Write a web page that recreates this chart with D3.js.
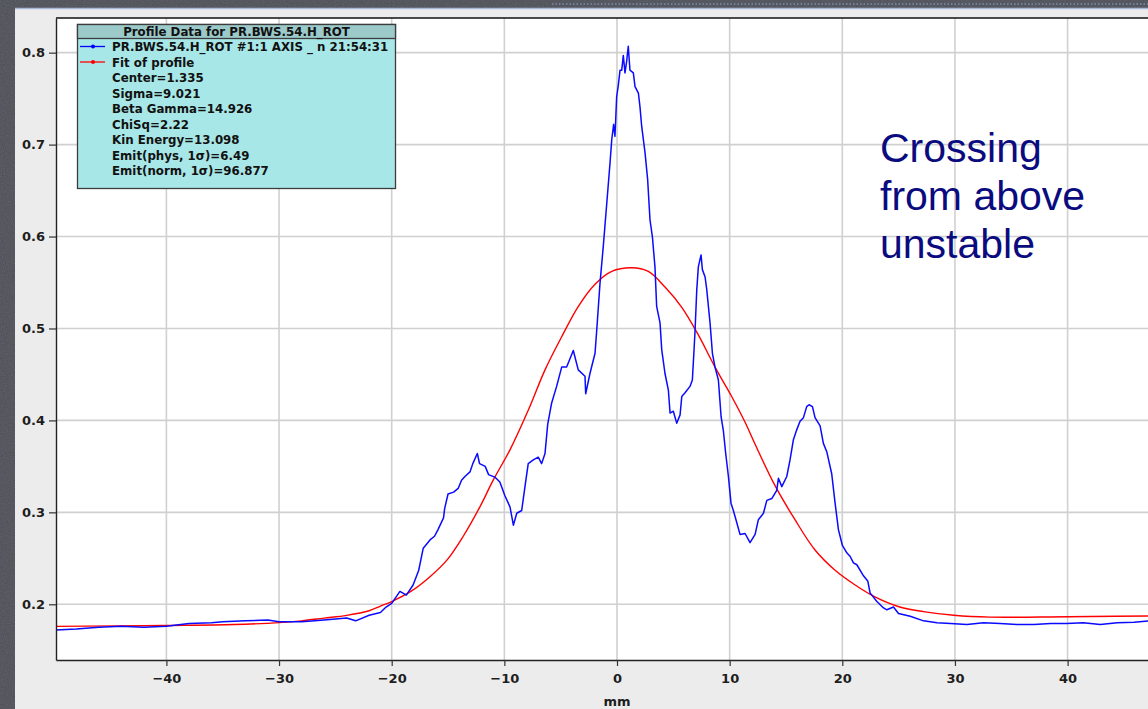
<!DOCTYPE html>
<html>
<head>
<meta charset="utf-8">
<script src="https://cdn.jsdelivr.net/npm/d3@7"></script>
<style>
  html, body { margin: 0; padding: 0; background: #474a52; }
  svg { display: block; }
</style>
</head>
<body>
<svg id="chart" width="1148" height="709"></svg>
<script>
// Measured wire-scanner profile (position in mm, signal)
const profileX = [-49.8, -48, -46, -44, -42, -40, -38, -36, -35, -33, -31, -30, -28, -26, -24, -23.2, -22, -21, -20.5, -20,
  -19.27, -18.7, -18.1, -17.6, -17.2, -16.6, -16.2, -15.9, -15.4, -15.3, -15.0, -14.5, -14.1, -13.8, -13.5, -13.05, -12.8, -12.4, -12.2, -11.7,
  -11.4, -10.8, -10.4, -9.95, -9.5, -9.2, -8.9, -8.46, -8.17, -7.88, -7.43, -6.99, -6.69, -6.39, -6.15, -5.8, -5.36, -4.91, -4.47, -3.88,
  -3.44, -2.84, -2.78, -2.4, -1.95, -1.8, -1.51, -1.22, -0.91, -0.62, -0.47, -0.3, -0.18, -0.03, 0.12, 0.27, 0.42, 0.56, 0.71, 0.85,
  1.0, 1.15, 1.45, 1.6, 1.9, 2.04, 2.19, 2.49, 2.72, 2.93, 3.14, 3.37, 3.52, 3.82, 3.97, 4.26, 4.56, 4.71, 5.0, 5.3,
  5.6, 5.75, 6.04, 6.48, 6.69, 6.84, 6.93, 7.08, 7.22, 7.46, 7.58, 7.82, 7.97, 8.26, 8.47, 8.7, 9.0, 9.24, 9.44, 9.65,
  9.89, 10.12, 10.33, 10.63, 10.92, 11.37, 11.81, 12.26, 12.55, 13.0, 13.3, 13.74, 14.18, 14.33, 14.63, 15.07, 15.36, 15.66, 15.96, 16.25,
  16.55, 16.84, 17.05, 17.35, 17.58, 18.03, 18.32, 18.62, 19.06, 19.36, 19.66, 20.01, 20.4, 20.7, 20.99, 21.29, 21.88, 22.27, 22.47, 22.62,
  23.07, 23.66, 23.96, 24.54, 24.99, 26.03, 27.21, 28.4, 29.6, 31.06, 32.54, 34.0, 35.5, 37.0, 38.5, 39.9, 41.4, 42.9, 44.4, 45.9,
  47.2, 49.8];
const profileY = [0.172, 0.173, 0.175, 0.176, 0.175, 0.176, 0.179, 0.180, 0.181, 0.182, 0.183, 0.181, 0.181, 0.183, 0.185, 0.182, 0.188, 0.191, 0.197, 0.201,
  0.214, 0.210, 0.221, 0.237, 0.261, 0.270, 0.274, 0.281, 0.294, 0.304, 0.320, 0.322, 0.326, 0.335, 0.339, 0.344, 0.353, 0.364, 0.353, 0.350,
  0.341, 0.338, 0.333, 0.318, 0.306, 0.286, 0.299, 0.302, 0.328, 0.353, 0.357, 0.360, 0.353, 0.364, 0.396, 0.419, 0.437, 0.458, 0.458, 0.476,
  0.455, 0.448, 0.429, 0.451, 0.473, 0.498, 0.549, 0.589, 0.636, 0.680, 0.705, 0.722, 0.709, 0.752, 0.765, 0.781, 0.781, 0.797, 0.778, 0.790,
  0.807, 0.781, 0.778, 0.763, 0.756, 0.741, 0.720, 0.691, 0.662, 0.618, 0.600, 0.567, 0.524, 0.506, 0.477, 0.451, 0.433, 0.408, 0.410, 0.397,
  0.406, 0.426, 0.430, 0.437, 0.444, 0.477, 0.498, 0.542, 0.567, 0.580, 0.564, 0.556, 0.542, 0.506, 0.473, 0.458, 0.444, 0.404, 0.389, 0.364,
  0.339, 0.310, 0.302, 0.289, 0.276, 0.277, 0.267, 0.276, 0.292, 0.299, 0.313, 0.315, 0.324, 0.337, 0.328, 0.339, 0.357, 0.379, 0.390, 0.399,
  0.403, 0.415, 0.417, 0.415, 0.403, 0.394, 0.375, 0.366, 0.342, 0.310, 0.281, 0.264, 0.256, 0.252, 0.245, 0.243, 0.231, 0.225, 0.212, 0.210,
  0.203, 0.196, 0.194, 0.197, 0.190, 0.187, 0.182, 0.180, 0.179, 0.178, 0.180, 0.179, 0.178, 0.178, 0.179, 0.179, 0.180, 0.178, 0.180, 0.1805,
  0.182, 0.182];

// Gaussian fit of the profile, sampled along the axis
const fitX = [-49.8, -40, -34, -30, -28, -26, -24, -22, -21, -20, -18.3, -16.6, -15.1, -13.65, -12.17, -10.99, -9.5, -7.88,
  -6.39, -4.91, -3.43, -1.95, -0.47, 1.3, 2.78, 4.26, 5.75, 7.22, 8.7, 10.18, 11.37, 12.26, 14.03, 15.8, 17.58, 19.36, 21.14, 22.9,
  25.1, 27.2, 29.9, 33.1, 40.0, 49.8];
const fitY = [0.176, 0.177, 0.178, 0.180, 0.182, 0.185, 0.188, 0.193, 0.198, 0.203, 0.214, 0.230, 0.248, 0.274, 0.306, 0.335, 0.368, 0.411,
  0.455, 0.491, 0.524, 0.548, 0.562, 0.566, 0.562, 0.545, 0.523, 0.493, 0.458, 0.426, 0.398, 0.374, 0.329, 0.292, 0.259, 0.237, 0.221, 0.208,
  0.197, 0.192, 0.188, 0.186, 0.1865, 0.1875];

const xTicks = [-40, -30, -20, -10, 0, 10, 20, 30, 40];
const yTicks = [0.2, 0.3, 0.4, 0.5, 0.6, 0.7, 0.8];

const legendTitle = "Profile Data for PR.BWS.54.H_ROT";
const legendSeries = ["PR.BWS.54.H_ROT #1:1 AXIS _ n 21:54:31", "Fit of profile"];
const legendSeriesColors = ["#0000ff", "#ff0000"];
const legendStats = ["Center=1.335", "Sigma=9.021", "Beta Gamma=14.926", "ChiSq=2.22",
  "Kin Energy=13.098", "Emit(phys, 1\u03c3)=6.49", "Emit(norm, 1\u03c3)=96.877"];
const noteLines = ["Crossing", "from above", "unstable"];
const xLabel = "mm";

(function draw() {
  const svg = d3.select("#chart");
  const W = 1148, H = 709;

  // Background: textured dark frame with light panel
  const defs = svg.append("defs");
  const grain = defs.append("filter").attr("id", "grain").attr("x", 0).attr("y", 0).attr("width", "100%").attr("height", "100%");
  grain.append("feTurbulence").attr("type", "fractalNoise").attr("baseFrequency", 0.9).attr("numOctaves", 2).attr("seed", 3).attr("result", "n");
  grain.append("feColorMatrix").attr("in", "n").attr("type", "matrix")
    .attr("values", "0 0 0 0 0.3  0 0 0 0 0.31  0 0 0 0 0.34  0 0 0 0.55 0");
  svg.append("rect").attr("width", W).attr("height", H).attr("fill", "#4a4c54");
  svg.append("rect").attr("width", W).attr("height", H).attr("filter", "url(#grain)").attr("opacity", 0.6);

  svg.append("rect").attr("x", 15).attr("y", 8).attr("width", W - 15).attr("height", H - 8).attr("fill", "#ececec");
  svg.append("line").attr("x1", 15).attr("x2", W).attr("y1", 8.5).attr("y2", 8.5).attr("stroke", "#a9b9d6").attr("stroke-width", 1.5);
  svg.append("line").attr("x1", 552).attr("x2", W).attr("y1", 4).attr("y2", 4)
    .attr("stroke", "#8ea6d8").attr("stroke-width", 1).attr("stroke-dasharray", "1.5,2");

  // Plot geometry
  const plotLeft = 56, plotTop = 18, plotBottom = 660;
  const x = d3.scaleLinear().domain([-49.8, 49.8]).range([plotLeft, 1178]);
  const y = d3.scaleLinear().domain([0.1394, 0.8377]).range([plotBottom, plotTop]);

  defs.append("clipPath").attr("id", "plotClip")
    .append("rect").attr("x", plotLeft).attr("y", plotTop).attr("width", W - plotLeft).attr("height", plotBottom - plotTop);

  svg.append("rect").attr("x", plotLeft).attr("y", plotTop).attr("width", W - plotLeft).attr("height", plotBottom - plotTop).attr("fill", "#ffffff");

  const plot = svg.append("g").attr("clip-path", "url(#plotClip)");

  // Grid
  plot.append("g").selectAll("line").data(xTicks).join("line")
    .attr("x1", d => x(d)).attr("x2", d => x(d)).attr("y1", plotTop).attr("y2", plotBottom)
    .attr("stroke", "#d0d0d0").attr("stroke-width", 1.6);
  plot.append("g").selectAll("line").data(yTicks).join("line")
    .attr("x1", plotLeft).attr("x2", W).attr("y1", d => y(d)).attr("y2", d => y(d))
    .attr("stroke", "#d0d0d0").attr("stroke-width", 1.6);

  // Series
  const profile = profileX.map((v, i) => [v, profileY[i]]);
  const fit = fitX.map((v, i) => [v, fitY[i]]);

  plot.append("path").datum(fit)
    .attr("fill", "none").attr("stroke", "#ff0000").attr("stroke-width", 1.4)
    .attr("d", d3.line().x(d => x(d[0])).y(d => y(d[1])).curve(d3.curveCatmullRom.alpha(0.5)));
  plot.append("path").datum(profile)
    .attr("fill", "none").attr("stroke", "#0a0aff").attr("stroke-width", 1.5).attr("stroke-linejoin", "round")
    .attr("d", d3.line().x(d => x(d[0])).y(d => y(d[1])));

  // Frame
  svg.append("line").attr("x1", plotLeft).attr("x2", W).attr("y1", plotTop).attr("y2", plotTop).attr("stroke", "#111").attr("stroke-width", 1.3);

  // Axes
  const fontAxis = "'DejaVu Sans', sans-serif";
  const yAxis = svg.append("g").attr("transform", `translate(${plotLeft},0)`)
    .call(d3.axisLeft(y).tickValues(yTicks).tickFormat(d3.format(".1f")).tickSize(7).tickSizeOuter(0).tickPadding(4));
  const xAxis = svg.append("g").attr("transform", `translate(0,${plotBottom})`)
    .call(d3.axisBottom(x).tickValues(xTicks).tickFormat(d3.format("d")).tickSize(6).tickSizeOuter(0).tickPadding(8));
  [yAxis, xAxis].forEach(g => {
    g.select(".domain").attr("stroke", "#222").attr("stroke-width", 1.4);
    g.selectAll(".tick line").attr("stroke", "#333").attr("stroke-width", 1.2);
    g.selectAll(".tick text").attr("fill", "#1e1e1e").style("font-family", fontAxis)
      .style("font-size", "13px").style("font-weight", "bold");
  });

  svg.append("text").attr("x", x(0)).attr("y", 706).attr("text-anchor", "middle")
    .style("font-family", fontAxis).style("font-size", "13px").style("font-weight", "bold").attr("fill", "#1e1e1e")
    .text(xLabel);

  // Legend panel
  const lg = svg.append("g");
  const lgX = 77.5, lgY = 24.5, lgW = 318, lgH = 164, titleH = 14;
  lg.append("rect").attr("x", lgX).attr("y", lgY).attr("width", lgW).attr("height", lgH)
    .attr("fill", "#a8e7e7").attr("stroke", "#3c3c3c").attr("stroke-width", 1.3);
  lg.append("rect").attr("x", lgX).attr("y", lgY).attr("width", lgW).attr("height", titleH)
    .attr("fill", "#9cc9c9").attr("stroke", "#3c3c3c").attr("stroke-width", 1.3);
  const legendFont = "'DejaVu Sans', sans-serif";
  lg.append("text").attr("x", lgX + lgW / 2).attr("y", 35.5).attr("text-anchor", "middle")
    .style("font-family", legendFont).style("font-size", "11.8px").style("font-weight", "bold").attr("fill", "#111")
    .text(legendTitle);

  const rowY = i => 51 + i * 15.5;
  const rows = legendSeries.concat(legendStats);
  lg.selectAll("text.row").data(rows).join("text").attr("class", "row")
    .attr("x", 112).attr("y", (d, i) => rowY(i))
    .style("font-family", legendFont).style("font-size", "11.8px").style("font-weight", "bold").attr("fill", "#111")
    .text(d => d);
  legendSeries.forEach((s, i) => {
    const cy = rowY(i) - 4.5;
    lg.append("line").attr("x1", 80).attr("x2", 105).attr("y1", cy).attr("y2", cy)
      .attr("stroke", legendSeriesColors[i]).attr("stroke-width", 1.3);
    lg.append("circle").attr("cx", 93).attr("cy", cy).attr("r", 2).attr("fill", legendSeriesColors[i]);
  });

  // Annotation
  svg.append("g").selectAll("text").data(noteLines).join("text")
    .attr("x", 880).attr("y", (d, i) => 161.5 + i * 48)
    .style("font-family", "'Liberation Sans', Arial, sans-serif").style("font-size", "41px")
    .attr("fill", "#0b0b80").text(d => d);
})();
</script>
</body>
</html>
